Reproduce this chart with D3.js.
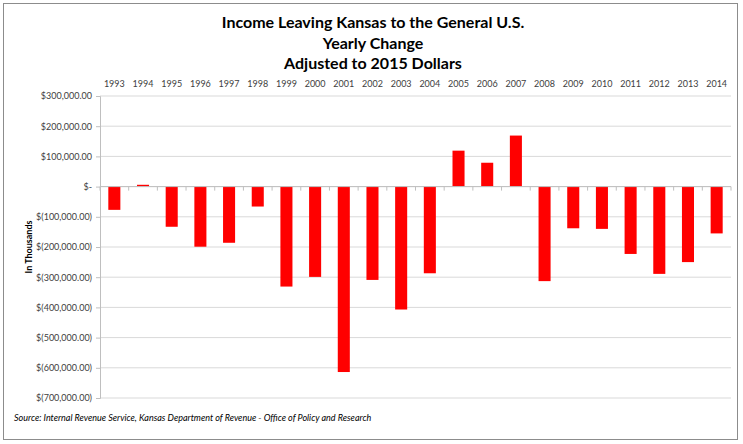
<!DOCTYPE html>
<html>
<head>
<meta charset="utf-8">
<script src="https://cdn.jsdelivr.net/npm/d3@7"></script>
<style>
  body { margin: 0; background: #fff; }
  text { font-family: Lato, "Open Sans", sans-serif; }
</style>
</head>
<body>
<div id="chart"></div>
<script>
const years = ["1993", "1994", "1995", "1996", "1997", "1998", "1999", "2000", "2001", "2002", "2003",
  "2004", "2005", "2006", "2007", "2008", "2009", "2010", "2011", "2012", "2013", "2014"];
const change = [-77000, 6000, -133000, -199000, -186000, -66000, -331000, -299000, -614000, -309000, -407000,
  -287000, 119000, 79000, 169000, -313000, -138000, -140000, -223000, -289000, -250000, -155000];
const yTicks = [300000, 200000, 100000, 0, -100000, -200000, -300000, -400000, -500000, -600000, -700000];
const titleLines = ["Income Leaving Kansas to the General U.S.", "Yearly Change", "Adjusted to 2015 Dollars"];
const source = "Source: Internal Revenue Service, Kansas Department of Revenue - Office of Policy and Research";

const width = 743;
const height = 444;
const margin = { top: 96, left: 100, bottom: 46, right: 12 };

const svg = d3.select("#chart").append("svg")
  .attr("width", width)
  .attr("height", height);

// outer frame
svg.append("rect")
  .attr("x", 3.5).attr("y", 3.5)
  .attr("width", 734).attr("height", 436)
  .attr("fill", "#fff")
  .attr("stroke", "#8c8c8c");

const x = d3.scaleBand()
  .domain(years)
  .range([margin.left, width - margin.right])
  .paddingInner(0.58)
  .paddingOuter(0.29);

const y = d3.scaleLinear()
  .domain([-700000, 300000])
  .range([height - margin.bottom, margin.top]);

const fmt = (v) => {
  if (v === 0) return "$-";
  const s = d3.format(",.2f")(Math.abs(v));
  return v < 0 ? `$(${s})` : `$${s}`;
};

// gridlines
svg.append("g")
  .selectAll("line")
  .data(yTicks)
  .join("line")
  .attr("x1", margin.left)
  .attr("x2", width - margin.right)
  .attr("y1", (d) => y(d))
  .attr("y2", (d) => y(d))
  .attr("stroke", "#d9d9d9");

// y axis
const yAxis = svg.append("g")
  .attr("transform", `translate(${margin.left},0)`)
  .call(d3.axisLeft(y).tickValues(yTicks).tickFormat(fmt).tickSize(4).tickPadding(4));
yAxis.select(".domain").attr("stroke", "#bfbfbf");
yAxis.selectAll(".tick line").attr("stroke", "#bfbfbf");
yAxis.selectAll("text").attr("font-size", 9).attr("fill", "#404040")
  .style("font-family", "Lato, sans-serif");

// bars
svg.append("g")
  .selectAll("rect")
  .data(years.map((d, i) => ({ year: d, value: change[i] })))
  .join("rect")
  .attr("x", (d) => x(d.year))
  .attr("y", (d) => y(Math.max(0, d.value)))
  .attr("width", x.bandwidth())
  .attr("height", (d) => Math.abs(y(d.value) - y(0)))
  .attr("fill", "#ff0000");

// category axis along zero line
const step = x.step();
const xAxis = svg.append("g")
  .attr("transform", `translate(0,${y(0)})`);
xAxis.append("line")
  .attr("x1", margin.left).attr("x2", width - margin.right)
  .attr("stroke", "#bfbfbf");
xAxis.selectAll("line.tk")
  .data(d3.range(years.length + 1))
  .join("line")
  .attr("class", "tk")
  .attr("x1", (i) => margin.left + i * step)
  .attr("x2", (i) => margin.left + i * step)
  .attr("y1", 0).attr("y2", 4)
  .attr("stroke", "#bfbfbf");

// year labels at top
svg.append("g")
  .selectAll("text")
  .data(years)
  .join("text")
  .attr("x", (d) => x(d) + x.bandwidth() / 2)
  .attr("y", 87)
  .attr("text-anchor", "middle")
  .attr("font-size", 9)
  .attr("fill", "#404040")
  .text((d) => d);

// title
svg.append("g")
  .selectAll("text")
  .data(titleLines)
  .join("text")
  .attr("x", 373)
  .attr("y", (d, i) => 28 + i * 20.5)
  .attr("text-anchor", "middle")
  .attr("font-size", 16)
  .attr("font-weight", "bold")
  .attr("fill", "#000")
  .text((d) => d);

// y axis title
svg.append("text")
  .attr("transform", `translate(32,${(y(300000) + y(-700000)) / 2}) rotate(-90)`)
  .attr("text-anchor", "middle")
  .attr("font-size", 9)
  .attr("font-weight", "bold")
  .text("In Thousands");

// source note
svg.append("text")
  .attr("x", 14)
  .attr("y", 421)
  .attr("font-size", 9)
  .attr("font-style", "italic")
  .attr("fill", "#000")
  .text(source);
</script>
</body>
</html>
